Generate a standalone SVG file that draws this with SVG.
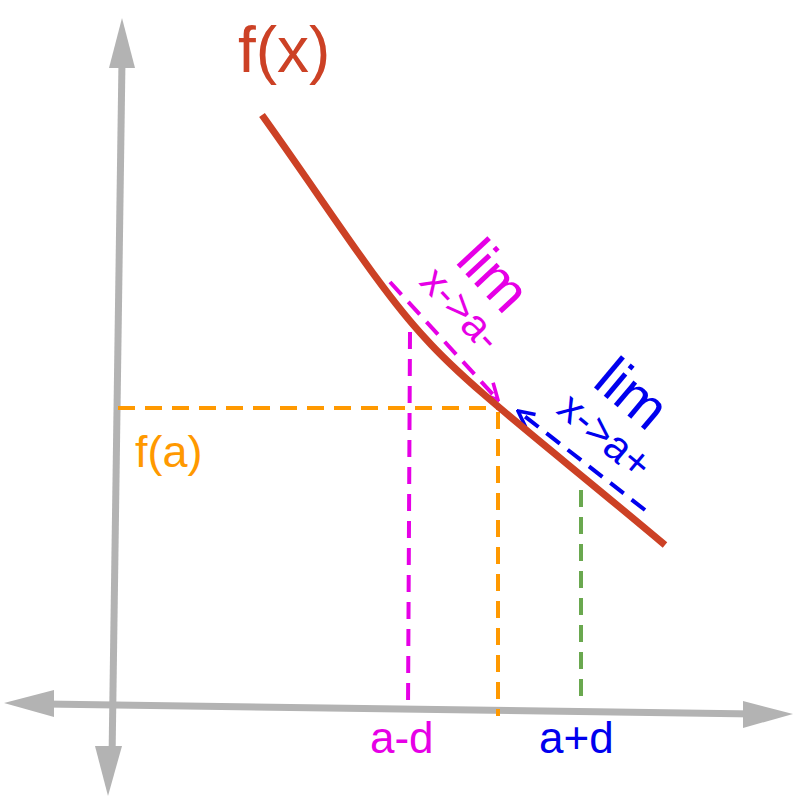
<svg xmlns="http://www.w3.org/2000/svg" width="800" height="800" viewBox="0 0 800 800">
<style>
.ax{stroke:#b3b3b3;stroke-width:7;fill:none}
.d{stroke-width:4;stroke-dasharray:17,10;fill:none}
text{font-family:"Liberation Sans",Arial,sans-serif}
</style>
<defs>
<marker id="mm" viewBox="0 0 10 10" refX="9" refY="5" markerWidth="20" markerHeight="20" orient="auto" markerUnits="userSpaceOnUse"><path d="M1,1L9,5L1,9" fill="none" stroke="#e600e6" stroke-width="1.8"/></marker>
<marker id="mb" viewBox="0 0 10 10" refX="9" refY="5" markerWidth="20" markerHeight="20" orient="auto" markerUnits="userSpaceOnUse"><path d="M1,1L9,5L1,9" fill="none" stroke="#0000ee" stroke-width="1.8"/></marker>
</defs>
<g id="axes">
<line class="ax" x1="122" y1="60" x2="112" y2="760"/>
<path d="M122,18L109,68L135,68z" fill="#b3b3b3"/>
<path d="M108,796L95,746L122,746z" fill="#b3b3b3"/>
<line class="ax" x1="45" y1="704" x2="755" y2="714"/>
<path d="M4,703L54,690L54,717z" fill="#b3b3b3"/>
<path d="M793,714L743,701L743,728z" fill="#b3b3b3"/>
</g>
<g id="connectors">
<line class="d" stroke="#ff9900" x1="118" y1="408" x2="498" y2="408"/>
<line class="d" stroke="#ff9900" x1="498" y1="412" x2="498" y2="716"/>
<line class="d" stroke="#e600e6" x1="410" y1="332" x2="408" y2="710"/>
<line class="d" stroke="#6aa84f" x1="581" y1="490" x2="581" y2="706"/>
<line class="d" stroke="#e600e6" x1="390" y1="282" x2="498" y2="400" marker-end="url(#mm)"/>
<line class="d" stroke="#0000ee" x1="645" y1="510" x2="518" y2="411" marker-end="url(#mb)"/>
</g>
<g id="curve">
<path d="M262,115 C330,210 380,290 425,338 C470,388 540,440 665,545" stroke="#cc4125" stroke-width="7" fill="none"/>
</g>
<g id="labels">
<text x="238" y="72" font-size="64" fill="#cc4125">f(x)</text>
<text x="135" y="467" font-size="45" fill="#ff9900">f(a)</text>
<text x="370" y="753" font-size="44" fill="#e600e6">a-d</text>
<text x="539" y="753" font-size="44" fill="#0000ee">a+d</text>
<text transform="translate(454,262) rotate(47)" font-size="58" fill="#e600e6">lim</text>
<text transform="translate(418,283) rotate(47)" font-size="42" fill="#e600e6">x-&gt;a-</text>
<text transform="translate(591,385) rotate(40)" font-size="58" fill="#0000ee">lim</text>
<text transform="translate(555,412) rotate(40)" font-size="42" fill="#0000ee">x-&gt;a+</text>
</g>
</svg>
